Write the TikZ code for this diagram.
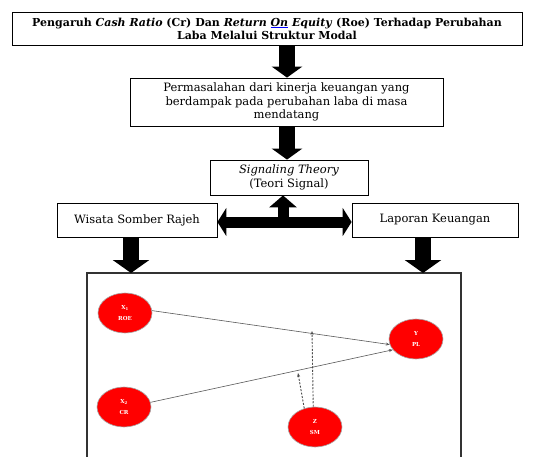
\documentclass[tikz,border=0pt]{standalone}
\usepackage{fontspec}
\setmainfont{DejaVu Serif}
\usetikzlibrary{arrows.meta,calc,shapes.geometric}
\begin{document}
\begin{tikzpicture}[x=1pt,y=-1pt,
  box/.style={draw=black, line width=0.8pt, align=center, inner sep=1pt,
    font=\fontsize{11.5}{13.5}\selectfont},
  blk/.style={line width=16pt, -{Triangle[width=32pt,length=12pt]}},
  blkT/.style={line width=11pt},
  var/.style={ellipse, draw=gray!70, line width=0.6pt, fill=red, text=white,
    minimum width=54pt, minimum height=40pt, inner sep=0pt, align=center,
    font=\fontsize{5.5}{11.5}\selectfont\bfseries},
  conn/.style={draw=gray!70!black, line width=0.6pt, -{Stealth[length=4pt,width=3pt]}},
  dconn/.style={draw=gray!60!black, line width=0.9pt, dash pattern=on 2pt off 1.5pt,
    -{Stealth[length=4pt,width=3pt]}}]
\clip (0,0) rectangle (548,457);
\fill[white] (0,0) rectangle (548,457);

\node[box, minimum width=510pt, minimum height=33pt, font=\fontsize{11}{13}\selectfont] (title) at (267,28.5)
  {\textbf{Pengaruh \textit{Cash Ratio} (Cr) Dan \textit{Return {\color{blue}\underline{\color{black}On}} Equity} (Roe) Terhadap Perubahan}\\
   \textbf{Laba Melalui Struktur Modal}};
\node[box, minimum width=313pt, minimum height=48pt] (prob) at (286.5,102)
  {Permasalahan dari kinerja keuangan yang\\ berdampak pada perubahan laba di masa\\ mendatang};
\node[box, minimum width=158pt, minimum height=35pt] (sig) at (289,177.5)
  {\textit{Signaling Theory}\\ (Teori Signal)};
\node[box, minimum width=160pt, minimum height=34pt] (wis) at (137,220)
  {Wisata Somber Rajeh};
\node[box, minimum width=166pt, minimum height=34pt] (lap) at (435,220)
  {Laporan Keuangan};

% frame
\coordinate (fTL) at (87,273);
\coordinate (fTR) at (461,273);
\draw[draw=gray!40!black, line width=1.2pt] (87,470) -- (fTL) -- (fTR) -- (461,470);

% block arrows
\coordinate (c1) at (287,0);
\coordinate (cL) at (131,0);
\coordinate (cR) at (423,0);
\coordinate (cT) at (283,222);
\draw[blk, -{Triangle[width=30pt,length=11pt]}] (title.south -| c1) -- (prob.north -| c1);
\draw[blk, -{Triangle[width=30pt,length=11pt]}] (prob.south -| c1) -- (sig.north -| c1);
\draw[blk, -{Triangle[width=36pt,length=13pt]}] (wis.south -| cL) -- (fTL -| cL);
\draw[blk, -{Triangle[width=36pt,length=13pt]}] (lap.south -| cR) -- (fTL -| cR);
\draw[blkT, {Triangle[width=28pt,length=9pt]}-{Triangle[width=28pt,length=9pt]}] (wis.east |- cT) -- (lap.west |- cT);
\draw[blkT, -{Triangle[width=27pt,length=12pt]}] ($(cT)+(0,4)$) -- (sig.south -| cT);

% variables
\node[var] (roe) at (125,313) {X\textsubscript{1}\\ROE};
\node[var] (cr) at (124,407) {X\textsubscript{2}\\CR};
\node[var] (pl) at (416,339) {Y\\PL};
\node[var] (sm) at (315,427) {Z\\SM};

\draw[conn] (roe.5) -- (pl.192);
\draw[conn] (cr.10) -- (pl.205);
\coordinate (e1) at (312,331);
\coordinate (e2) at (298,373);
\draw[dconn] (sm.95) -- (e1);
\draw[dconn] (sm.120) -- (e2);
\end{tikzpicture}
\end{document}
